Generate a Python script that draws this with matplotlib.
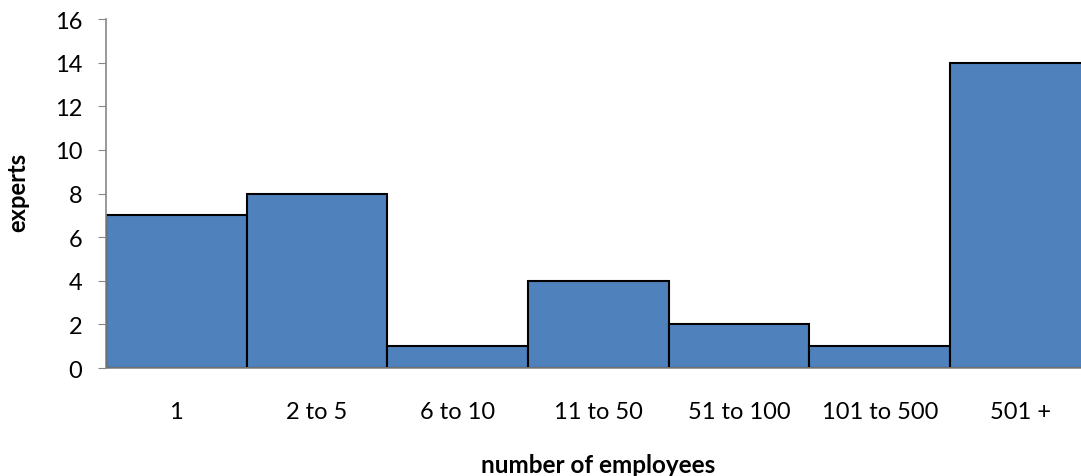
import matplotlib
matplotlib.use("Agg")
import matplotlib.pyplot as plt

categorias = ["1", "2 to 5", "6 to 10", "11 to 50", "51 to 100", "101 to 500", "501 +"]
experts = [7, 8, 1, 4, 2, 1, 14]

plt.rcParams['font.family'] = ['Lato', 'DejaVu Sans']

fig = plt.figure(figsize=(10.81, 4.77), dpi=100)
ax = fig.add_axes([106 / 1081, 1 - 369 / 477, 1 - 106 / 1081, (369 - 20) / 477])

x = range(len(categorias))
ax.bar(x, experts, width=1.0, color="#4F81BD", edgecolor="black", linewidth=1.5, zorder=2)

ax.set_xlim(-0.5, 6.43)
ax.set_ylim(0, 16)
ax.set_yticks(range(0, 17, 2))
ax.set_xticks(list(x))
ax.set_xticklabels(categorias)

for lado in ["top", "right"]:
    ax.spines[lado].set_visible(False)
for lado in ["left", "bottom"]:
    ax.spines[lado].set_color("#888888")
    ax.spines[lado].set_linewidth(1.2)

ax.tick_params(axis="y", direction="out", length=6, color="#888888", labelsize=17, pad=11)
ax.tick_params(axis="x", length=0, labelsize=17, pad=24)

# rótulos dos eixos posicionados à mão
fig.text(18 / 1081, 1 - 192 / 477, "experts", rotation=90, fontsize=17, fontweight="bold",
         ha="center", va="center")
fig.text(598 / 1081, 1 - 466 / 477, "number of employees", fontsize=17.5, fontweight="bold",
         ha="center", va="center")

fig.savefig("out.png", dpi=100)
